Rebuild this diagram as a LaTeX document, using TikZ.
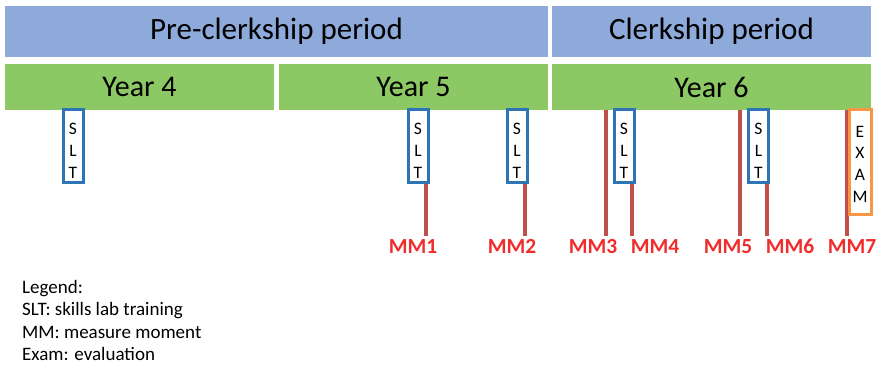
\documentclass[tikz,border=0pt]{standalone}
\usepackage{fontspec}
\setmainfont{Carlito}
\definecolor{bandblue}{RGB}{142,170,219}
\definecolor{bandgreen}{RGB}{140,200,100}
\definecolor{sltblue}{RGB}{46,117,182}
\definecolor{mmline}{RGB}{192,80,77}
\definecolor{mmtext}{RGB}{240,45,45}
\definecolor{examorange}{RGB}{247,150,70}
\tikzset{
  band/.style={fill=bandblue, draw=none, inner sep=0pt, font=\fontsize{31}{36}\selectfont},
  yearband/.style={fill=bandgreen, draw=none, inner sep=0pt, font=\fontsize{30}{34}\selectfont},
  sltbox/.style={draw=sltblue, line width=3pt, fill=white, minimum width=20pt, minimum height=73pt, inner sep=0pt},
  exambox/.style={draw=examorange, line width=3pt, fill=white, minimum width=22pt, minimum height=105pt, inner sep=0pt},
  stacktext/.style={align=center, inner sep=0pt, font=\fontsize{17.5}{21.7}\selectfont},
  mm/.style={draw=mmline, line width=3.5pt},
  mmlabel/.style={text=mmtext, anchor=base, font=\fontsize{21.5}{25}\selectfont\bfseries, inner sep=0pt},
  legend/.style={anchor=base west, inner sep=0pt, font=\fontsize{19}{22}\selectfont}
}
\begin{document}
\begin{tikzpicture}[x=1pt, y=-1pt]
\useasboundingbox (0,0) rectangle (879,366);
% period bands
\node[band, minimum width=543pt, minimum height=51pt] (pre) at (276.5,31.5) {Pre-clerkship period};
\node[band, minimum width=319pt, minimum height=51pt] (clk) at (711.5,31.5) {Clerkship period};
% year bands
\node[yearband, minimum width=269pt, minimum height=46pt] (y4) at (139.5,87) {Year 4};
\node[yearband, minimum width=269pt, minimum height=46pt] (y5) at (413.5,87) {Year 5};
\node[yearband, minimum width=319pt, minimum height=46pt] (y6) at (711.5,87) {Year 6};
% coordinates for measure moment lines
\coordinate (t1) at (426,183); \coordinate (b1) at (426,236);
\coordinate (t2) at (525,183); \coordinate (b2) at (525,236);
\coordinate (t3) at (606,110); \coordinate (b3) at (606,236);
\coordinate (t4) at (632,183); \coordinate (b4) at (632,236);
\coordinate (t5) at (740,110); \coordinate (b5) at (740,236);
\coordinate (t6) at (767,183); \coordinate (b6) at (767,236);
\coordinate (t7) at (847,110); \coordinate (b7) at (847,236);
\foreach \i in {1,...,7} { \draw[mm] (t\i) -- (b\i); }
% SLT boxes
\node[sltbox] (s0) at (73,146.5) {};
\node[stacktext] (s0t) at (73,151) {S\\L\\T};
\node[sltbox] (s1) at (418,146.5) {};
\node[stacktext] (s1t) at (418,151) {S\\L\\T};
\node[sltbox] (s2) at (517,146.5) {};
\node[stacktext] (s2t) at (517,151) {S\\L\\T};
\node[sltbox] (s3) at (624,146.5) {};
\node[stacktext] (s3t) at (624,151) {S\\L\\T};
\node[sltbox] (s4) at (758.5,146.5) {};
\node[stacktext] (s4t) at (758.5,151) {S\\L\\T};
% exam box
\node[exambox] (ex) at (860,162.5) {};
\node[stacktext] (ext) at (860,164) {E\\X\\A\\M};
% MM labels
\node[mmlabel] (m1) at (413,254) {MM1};
\node[mmlabel] (m2) at (512,254) {MM2};
\node[mmlabel] (m3) at (593,254) {MM3};
\node[mmlabel] (m4) at (655,254) {MM4};
\node[mmlabel] (m5) at (728,254) {MM5};
\node[mmlabel] (m6) at (790,254) {MM6};
\node[mmlabel] (m7) at (852,254) {MM7};
% legend
\node[legend] (l0) at (22,294) {Legend:};
\node[legend] (l1) at (22,316) {SLT: skills lab training};
\node[legend] (l2) at (22,338) {MM: measure moment};
\node[legend] (l3) at (22,360) {Exam: evaluation};
\end{tikzpicture}
\end{document}
